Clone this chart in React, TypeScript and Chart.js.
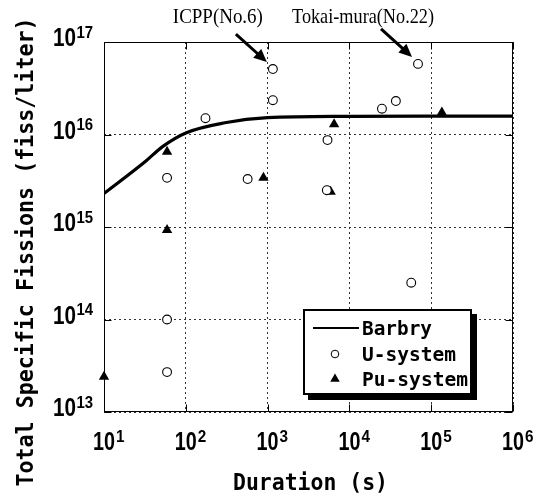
import React, { useEffect, useRef } from "react";
import { Chart, registerables } from "chart.js";
Chart.register(...registerables);

// ---- data ----
const xDecades = [10, 100, 1000, 10000, 100000, 1000000];
const yDecades = [1e13, 1e14, 1e15, 1e16, 1e17];

const barbryX = [10, 32, 52, 100, 300, 1000, 10000, 100000, 1000000];
const barbryY = [2.3e15, 5.1e15, 7.4e15, 1.04e16, 1.34e16, 1.52e16, 1.57e16, 1.58e16, 1.58e16];

const uX = [1160, 1160, 174, 5400, 25000, 37000, 69000, 59, 570, 5300, 57000, 59, 59];
const uY = [5.1e16, 2.35e16, 1.5e16, 8.7e15, 1.9e16, 2.3e16, 5.8e16, 3.4e15, 3.3e15, 2.5e15, 2.5e14, 1e14, 2.7e13];

const puX = [59, 6500, 135000, 890, 5900, 59, 10];
const puY = [6.5e15, 1.29e16, 1.73e16, 3.4e15, 2.4e15, 9.3e14, 2.4e13];

const annotLabels = ["ICPP(No.6)", "Tokai-mura(No.22)"];
const annotX = [1160, 69000];
const annotY = [5.1e16, 5.8e16];

const xTitle = "Duration (s)";
const yTitle = "Total Specific Fissions (fiss/liter)";

const MONO = "'DejaVu Sans Mono', monospace";
const SANS = "'Liberation Sans', Arial, sans-serif";
const SERIF = "'Liberation Serif', 'Times New Roman', serif";

function drawArrow(ctx: CanvasRenderingContext2D, x0: number, y0: number, x1: number, y1: number) {
  const ang = Math.atan2(y1 - y0, x1 - x0);
  const hl = 13, hw = 6;
  const bx = x1 - hl * Math.cos(ang), by = y1 - hl * Math.sin(ang);
  ctx.beginPath();
  ctx.moveTo(x0, y0);
  ctx.lineTo(bx + 1 * Math.cos(ang), by + 1 * Math.sin(ang));
  ctx.lineWidth = 3;
  ctx.stroke();
  ctx.beginPath();
  ctx.moveTo(x1, y1);
  ctx.lineTo(bx + hw * Math.sin(ang), by - hw * Math.cos(ang));
  ctx.lineTo(bx - hw * Math.sin(ang), by + hw * Math.cos(ang));
  ctx.closePath();
  ctx.fill();
}

const decorPlugin = {
  id: "decor",
  afterDraw(chart: any) {
    const ctx: CanvasRenderingContext2D = chart.ctx;
    const { left, right, top, bottom } = chart.chartArea;
    const xs = chart.scales.x;
    const ys = chart.scales.y;
    ctx.save();
    ctx.fillStyle = "#000";
    ctx.strokeStyle = "#000";

    // frame
    const L = Math.round(left) + 0.5, R = Math.round(right) - 0.5;
    const T = Math.round(top) + 0.5, B = Math.round(bottom) - 0.5;
    ctx.lineWidth = 1;
    ctx.setLineDash([]);
    ctx.strokeRect(L, T, R - L, B - T);

    // inner tick marks
    ctx.beginPath();
    xDecades.forEach((v) => {
      const px = Math.round(xs.getPixelForValue(v)) + 0.5;
      ctx.moveTo(px, B); ctx.lineTo(px, B - 7);
      ctx.moveTo(px, T); ctx.lineTo(px, T + 7);
    });
    yDecades.forEach((v) => {
      const py = Math.round(ys.getPixelForValue(v)) + 0.5;
      ctx.moveTo(L, py); ctx.lineTo(L + 7, py);
      ctx.moveTo(R, py); ctx.lineTo(R - 7, py);
    });
    ctx.stroke();

    // x tick labels
    ctx.textBaseline = "alphabetic";
    xDecades.forEach((v) => {
      const px = xs.getPixelForValue(v);
      const e = String(Math.round(Math.log10(v)));
      ctx.font = `bold 25px ${SANS}`;
      ctx.textAlign = "center";
      ctx.fillText("10", px, 450, 22);
      ctx.font = `bold 17px ${SANS}`;
      ctx.textAlign = "left";
      ctx.fillText(e, px + 12, 442, 8.5 * e.length);
    });
    // y tick labels
    yDecades.forEach((v) => {
      const py = ys.getPixelForValue(v);
      const e = String(Math.round(Math.log10(v)));
      ctx.font = `bold 17px ${SANS}`;
      ctx.textAlign = "right";
      ctx.fillText(e, 93, py - 4.5, 8.3 * e.length);
      ctx.font = `bold 25px ${SANS}`;
      ctx.fillText("10", 76, py + 4, 23);
    });

    // axis titles
    ctx.font = `bold 23px ${MONO}`;
    ctx.textAlign = "center";
    ctx.fillText(xTitle, (left + right) / 2 + 2, 490, 155);
    ctx.save();
    ctx.translate(33, 252);
    ctx.rotate(-Math.PI / 2);
    ctx.fillText(yTitle, 0, 0, 469);
    ctx.restore();

    // annotations with arrows
    annotLabels.forEach((lab, i) => {
      const px = xs.getPixelForValue(annotX[i]);
      const py = ys.getPixelForValue(annotY[i]);
      const tipX = px - 6, tipY = py - 7;
      drawArrow(ctx, tipX - 31, tipY - 28, tipX, tipY);
      ctx.font = `21px ${SERIF}`;
      ctx.textAlign = "center";
      const w = i === 0 ? 90 : 142;
      ctx.fillText(lab, tipX - 49, 23, w);
    });

    // legend
    const bx = 303, by = 309, bw = 169, bh = 86;
    ctx.fillStyle = "#000";
    ctx.fillRect(bx + 5, by + 5, bw, bh);
    ctx.fillStyle = "#fff";
    ctx.fillRect(bx, by, bw, bh);
    ctx.lineWidth = 2;
    ctx.strokeStyle = "#000";
    ctx.strokeRect(bx + 1, by + 1, bw - 2, bh - 2);
    ctx.fillStyle = "#000";
    const ds = chart.data.datasets;
    const rowsBase = [335, 361, 386];
    const textW = [70, 94, 106];
    ds.forEach((d: any, i: number) => {
      const cy = rowsBase[i] - 7;
      if (i === 0) {
        ctx.beginPath();
        ctx.moveTo(313, cy); ctx.lineTo(359, cy);
        ctx.lineWidth = 2; ctx.stroke();
      } else if (i === 1) {
        ctx.beginPath();
        ctx.arc(335, cy, 3.8, 0, Math.PI * 2);
        ctx.lineWidth = 1; ctx.stroke();
      } else {
        const r = 5.5;
        ctx.beginPath();
        ctx.moveTo(335, cy - r);
        ctx.lineTo(335 + r * Math.sin((2 * Math.PI) / 3), cy - r * Math.cos((2 * Math.PI) / 3));
        ctx.lineTo(335 - r * Math.sin((2 * Math.PI) / 3), cy - r * Math.cos((2 * Math.PI) / 3));
        ctx.closePath(); ctx.fill();
      }
      ctx.font = `bold 20px ${MONO}`;
      ctx.textAlign = "left";
      ctx.fillText(d.label, 362, rowsBase[i], textW[i]);
    });
    ctx.restore();
  },
};

export default function App() {
  const ref = useRef<HTMLCanvasElement>(null);
  useEffect(() => {
    if (!ref.current) return;
    const chart = new Chart(ref.current, {
      type: "scatter",
      data: {
        datasets: [
          {
            label: "Barbry",
            data: barbryX.map((x, i) => ({ x, y: barbryY[i] })),
            showLine: true,
            borderColor: "#000",
            borderWidth: 3.2,
            pointRadius: 0,
            cubicInterpolationMode: "monotone",
          } as any,
          {
            label: "U-system",
            data: uX.map((x, i) => ({ x, y: uY[i] })),
            pointStyle: "circle",
            pointRadius: 4.4,
            borderColor: "#000",
            borderWidth: 1.1,
            backgroundColor: "#fff",
            clip: false,
          } as any,
          {
            label: "Pu-system",
            data: puX.map((x, i) => ({ x, y: puY[i] })),
            pointStyle: "triangle",
            pointRadius: 6,
            borderColor: "#000",
            borderWidth: 0,
            backgroundColor: "#000",
            clip: false,
          } as any,
        ],
      },
      options: {
        responsive: false,
        animation: false,
        devicePixelRatio: 1,
        layout: { padding: { left: 104, top: 42, right: 28, bottom: 85 } },
        plugins: { legend: { display: false }, tooltip: { enabled: false } },
        scales: {
          x: {
            type: "logarithmic",
            min: 10,
            max: 1e6,
            ticks: { display: false },
            grid: { color: "#333", lineWidth: 1, drawTicks: false },
            border: { display: false, dash: [2, 3] },
            afterBuildTicks: (s: any) => {
              s.ticks = xDecades.map((v) => ({ value: v }));
            },
          },
          y: {
            type: "logarithmic",
            min: 1e13,
            max: 1e17,
            ticks: { display: false },
            grid: { color: "#333", lineWidth: 1, drawTicks: false },
            border: { display: false, dash: [2, 3] },
            afterBuildTicks: (s: any) => {
              s.ticks = yDecades.map((v) => ({ value: v }));
            },
          },
        },
      } as any,
      plugins: [decorPlugin],
    });
    return () => chart.destroy();
  }, []);
  return (
    <div style={{ position: "fixed", left: 0, top: 0, width: 541, height: 497, background: "#fff" }}>
      <canvas ref={ref} width={541} height={497} style={{ display: "block" }} />
    </div>
  );
}
